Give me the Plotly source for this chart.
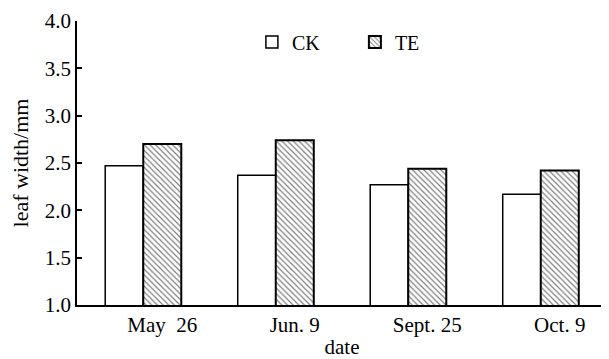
import plotly.graph_objects as go

dates = ["May  26", "Jun. 9", "Sept. 25", "Oct. 9"]
ck = [2.47, 2.37, 2.27, 2.17]
te = [2.70, 2.74, 2.44, 2.42]
y_ticks = [1.0, 1.5, 2.0, 2.5, 3.0, 3.5, 4.0]

FONT = "Liberation Serif"

fig = go.Figure()
fig.add_trace(go.Bar(
    name="CK", x=dates, y=ck,
    marker=dict(color="white", line=dict(color="black", width=1.5)),
))
fig.add_trace(go.Bar(
    name="TE", x=dates, y=te,
    marker=dict(color="white", line=dict(color="black", width=2),
                pattern=dict(shape="\\", size=4, solidity=0.3,
                             fgcolor="black", bgcolor="white")),
))

# page body has an 8px default margin, so the figure is sized 601x351
fig.update_layout(
    width=601, height=351,
    margin=dict(l=69, r=2, t=13, b=54, autoexpand=False),
    paper_bgcolor="white", plot_bgcolor="white",
    font=dict(family=FONT, size=21, color="black"),
    barmode="group", bargap=0.426, bargroupgap=0,
    showlegend=True,
    legend=dict(orientation="h", x=0.33, y=0.926, xanchor="left", yanchor="middle",
                font=dict(family=FONT, size=20), bgcolor="rgba(0,0,0,0)",
                entrywidth=58, entrywidthmode="pixels", itemwidth=30),
    xaxis=dict(
        showline=True, linecolor="black", linewidth=1.5, automargin=False,
        ticks="", showgrid=False, ticklabelshift=19,
        title=dict(text="date", font=dict(family=FONT, size=21), standoff=5),
    ),
    yaxis=dict(
        range=[1, 4], tickvals=y_ticks, tickformat=".1f", automargin=False,
        showline=True, linecolor="black", linewidth=1.5,
        ticks="inside", ticklen=5, tickwidth=1.5, tickcolor="black",
        showgrid=False, zeroline=False,
        title=dict(text="leaf width/mm", font=dict(family=FONT, size=22), standoff=14),
    ),
    shapes=[dict(type="line", xref="paper", yref="paper", x0=1, x1=1, y0=0, y1=0.018,
                 line=dict(color="black", width=1.5))],
)

fig.write_html("out.html")
